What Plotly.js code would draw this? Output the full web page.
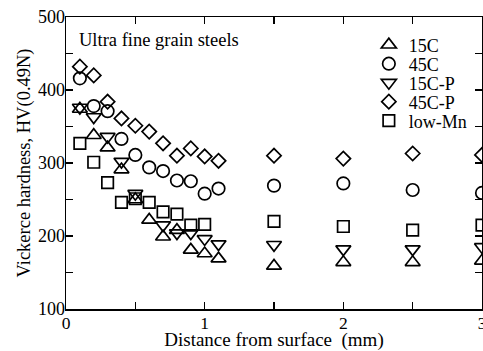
<!DOCTYPE html>
<html>
<head>
<meta charset="utf-8">
<script src="https://cdn.plot.ly/plotly-3.0.1.min.js"></script>
<style>html,body{margin:0;padding:0;background:#fff;}#chart{width:483px;height:351px;}</style>
</head>
<body>
<div id="chart"></div>
<script>
// Distance from surface (mm)
var distance = [0.1, 0.2, 0.3, 0.4, 0.5, 0.6, 0.7, 0.8, 0.9, 1.0, 1.1, 1.5, 2.0, 2.5, 3.0];
// Vickers hardness HV(0.49N)
var hv15C   = [374, 338, 321, 291, 250, 222, 199, 208, 181, 176, 169, 159, 164, 164, 166];
var hv45C   = [416, 378, 371, 333, 311, 294, 289, 276, 275, 258, 265, 269, 272, 263, 259];
var hv15CP  = [376, 363, 336, 302, 258, null, 215, 204, 204, 196, 189, 188, 182, 182, 185];
var hv45CP  = [432, 420, 384, 361, 351, 343, 327, 310, 320, 309, 303, 310, 306, 313, 311];
var hvLowMn = [327, 301, 273, 246, 251, 246, 233, 230, 215, 216, null, 220, 213, 208, 215];

var seriesNames = ['15C', '45C', '15C-P', '45C-P', 'low-Mn'];
var seriesValues = [hv15C, hv45C, hv15CP, hv45CP, hvLowMn];
var symbols = ['triangle-up-open', 'circle-open', 'triangle-down-open', 'diamond-open', 'square-open'];
var sizes = [13, 12.5, 13, 11, 11.5];
var legendIds = ['legend', 'legend2', 'legend3', 'legend4', 'legend5'];
var legendY = [0.904, 0.839, 0.774, 0.709, 0.644];

var FONT = 'Liberation Serif, Times New Roman, serif';

var traces = seriesNames.map(function (name, i) {
  return {
    type: 'scatter', mode: 'markers', name: name,
    x: distance, y: seriesValues[i],
    legend: legendIds[i],
    marker: {symbol: symbols[i], size: sizes[i], color: '#000', line: {width: 1.7, color: '#000'}},
    cliponaxis: false
  };
});

function minorOf(d) { return {dtick: d, ticks: 'inside', ticklen: 7, tickwidth: 1.5, tickcolor: '#000', showgrid: false}; }

var layout = {
  width: 483, height: 351,
  margin: {l: 66, r: 1, t: 17, b: 42},
  paper_bgcolor: '#fff', plot_bgcolor: '#fff',
  font: {family: FONT, size: 18, color: '#000'},
  showlegend: true,
  xaxis: {
    range: [0, 3], tick0: 0, dtick: 1, minor: minorOf(0.5),
    ticks: 'inside', ticklen: 7, tickwidth: 1.5, tickcolor: '#000',
    showline: true, linewidth: 1.5, linecolor: '#000', mirror: 'ticks',
    showgrid: false, zeroline: false, ticklabeloverflow: 'allow', ticklabelstandoff: -3,
    tickfont: {family: FONT, size: 17.5, color: '#000'},
    title: {text: 'Distance from surface  (mm)', font: {family: FONT, size: 19, color: '#000'}, standoff: 6}
  },
  yaxis: {
    range: [100, 500], tick0: 100, dtick: 100, minor: minorOf(50),
    ticks: 'inside', ticklen: 7, tickwidth: 1.5, tickcolor: '#000',
    showline: true, linewidth: 1.5, linecolor: '#000', mirror: 'ticks',
    showgrid: false, zeroline: false, ticklabelstandoff: -4,
    tickfont: {family: FONT, size: 18, color: '#000'},
    title: {text: 'Vickerce hardness, HV(0.49N)', font: {family: FONT, size: 18.5, color: '#000'}, standoff: 2}
  },
  annotations: [{
    xref: 'paper', yref: 'paper', x: 0.027, y: 0.921, xanchor: 'left', yanchor: 'middle',
    text: 'Ultra fine grain steels', showarrow: false,
    font: {family: FONT, size: 18.5, color: '#000'}
  }]
};

legendIds.forEach(function (id, i) {
  layout[id] = {
    x: 0.728, y: legendY[i], xanchor: 'left', yanchor: 'middle',
    bgcolor: 'rgba(0,0,0,0)', borderwidth: 0,
    font: {family: FONT, size: 18, color: '#000'}
  };
});

Plotly.newPlot('chart', traces, layout, {staticPlot: true, displayModeBar: false});
</script>
</body>
</html>
